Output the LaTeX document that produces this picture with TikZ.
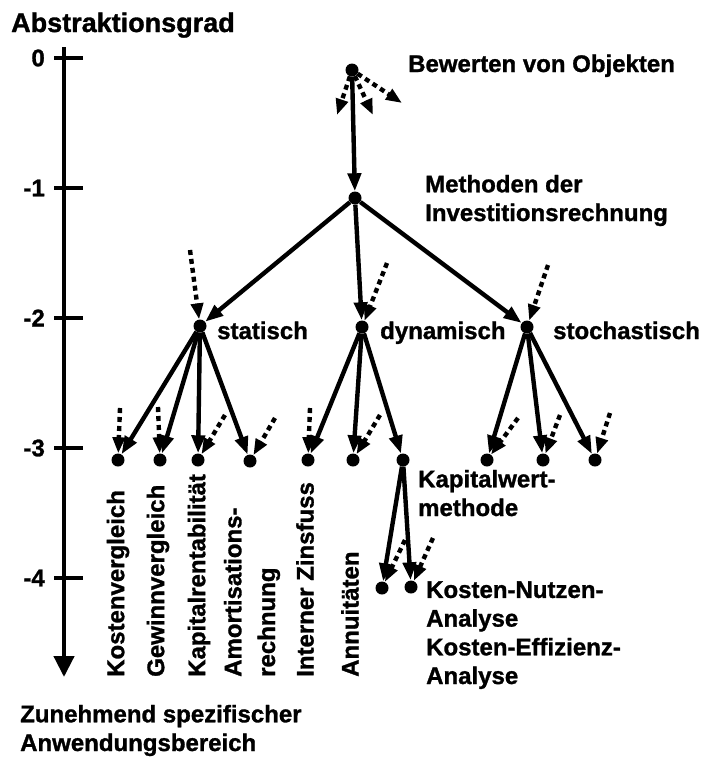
\documentclass[tikz,border=0pt]{standalone}
\usepackage{fontspec}
\setmainfont{Liberation Sans}[BoldFeatures={FakeBold=1.2}]
\usepackage{tikz}
\usetikzlibrary{arrows.meta,positioning}

\begin{document}
\begin{tikzpicture}[
  x=1pt, y=-1pt,
  dot/.style={circle, fill=black, inner sep=0pt, minimum size=13pt},
  txt/.style={font=\bfseries\fontsize{24}{28.7}\selectfont, inner sep=0pt, align=left},
  vtxt/.style={txt, rotate=90, anchor=west},
  arrow/.style={-{Triangle[length=18pt,width=13pt]}, line width=4.4pt},
  hint/.style={-{Triangle[length=16pt,width=12pt]}, line width=4.4pt, dash pattern=on 5pt off 4pt},
  axis/.style={-{Triangle[length=21pt,width=20pt]}, line width=4.4pt},
  tick/.style={line width=4.4pt}
]
\useasboundingbox (0,0) rectangle (704,758);

% axis with levels
\coordinate (axtop) at (64,47);
\coordinate (axbot) at (64,677);
\draw[axis] (axtop) -- (axbot);
\foreach \v/\y in {0/58,-1/188,-2/318,-3/448,-4/578} {
  \draw[tick] (54,\y) -- (83,\y);
  \node[txt, anchor=east] (lv\y) at (45,\y) {\v};
}
\node[txt, font=\bfseries\fontsize{27}{30}\selectfont, anchor=base west] (title) at (11,32) {Abstraktionsgrad};
\node[txt, anchor=base west] (foot) at (20,751) {Zunehmend spezifischer\\Anwendungsbereich};

% tree
\node[dot] (root) at (352,70) {};
\node[dot] (meth) at (355,198) {};
\node[dot] (sta) at (200,326) {};
\node[dot] (dyn) at (362,327) {};
\node[dot] (sto) at (527,327) {};
\node[dot] (k1) at (118,460) {};
\node[dot] (k2) at (160,460) {};
\node[dot] (k3) at (198,460) {};
\node[dot] (k4) at (250,461) {};
\node[dot] (d1) at (308,460) {};
\node[dot] (d2) at (353,460) {};
\node[dot] (d3) at (403,460) {};
\node[dot] (s1) at (487,460) {};
\node[dot] (s2) at (543,460) {};
\node[dot] (s3) at (595,460) {};
\node[dot] (e1) at (382,588) {};
\node[dot] (e2) at (411,587) {};

\node[txt, anchor=base west] (lroot) at (408,72) {Bewerten von Objekten};
\node[txt, anchor=base west] (lmeth) at (425,221) {Methoden der\\Investitionsrechnung};
\node[txt, anchor=base west] (lsta) at (217,339) {statisch};
\node[txt, anchor=base west] (ldyn) at (380,339) {dynamisch};
\node[txt, anchor=base west] (lsto) at (553,339) {stochastisch};
\node[txt, anchor=base west] (ld3) at (418,516) {Kapitalwert-\\methode};
\node[txt, anchor=base west] (le) at (426,684) {Kosten-Nutzen-\\Analyse\\Kosten-Effizienz-\\Analyse};

\node[vtxt] (lk1) at (118,677) {Kostenvergleich};
\node[vtxt] (lk2) at (158,677) {Gewinnvergleich};
\node[vtxt] (lk3) at (199,677) {Kapitalrentabilität};
\node[vtxt] (lk4) at (252,677) {Amortisations-\\[5pt]rechnung};
\node[vtxt] (ld1) at (305,677) {Interner Zinsfuss};
\node[vtxt] (ld2) at (350,677) {Annuitäten};

\draw[arrow] (root) -- (meth);
\draw[arrow] (meth) -- (sta);
\draw[arrow] (meth) -- (dyn);
\draw[arrow] (meth) -- (sto);
\draw[arrow] (sta) -- (k1);
\draw[arrow] (sta) -- (k2);
\draw[arrow] (sta) -- (k3);
\draw[arrow] (sta) -- (k4);
\draw[arrow] (dyn) -- (d1);
\draw[arrow] (dyn) -- (d2);
\draw[arrow] (dyn) -- (d3);
\draw[arrow] (sto) -- (s1);
\draw[arrow] (sto) -- (s2);
\draw[arrow] (sto) -- (s3);
\draw[arrow] (d3) -- (e1);
\draw[arrow] (d3) -- (e2);

% dotted hints
\coordinate (ro1) at (337,115);
\coordinate (ro2) at (373,115);
\coordinate (ro3) at (402,103);
\coordinate (hsta) at (190,250);
\coordinate (hdyn) at (387,263);
\coordinate (hsto) at (548,265);
\coordinate (hk1) at (120,408);
\coordinate (hk2) at (158,407);
\coordinate (hk3) at (225,415);
\coordinate (hk4) at (275,418);
\coordinate (hd1) at (310,408);
\coordinate (hd2) at (380,415);
\coordinate (hs1) at (518,418);
\coordinate (hs2) at (560,415);
\coordinate (hs3) at (610,413);
\coordinate (he1) at (405,540);
\coordinate (he2) at (433,538);

\draw[hint] (root) -- (ro1);
\draw[hint] (root) -- (ro2);
\draw[hint] (root) -- (ro3);
\draw[hint] (hsta) -- (sta);
\draw[hint] (hdyn) -- (dyn);
\draw[hint] (hsto) -- (sto);
\draw[hint] (hk1) -- (k1);
\draw[hint] (hk2) -- (k2);
\draw[hint] (hk3) -- (k3);
\draw[hint] (hk4) -- (k4);
\draw[hint] (hd1) -- (d1);
\draw[hint] (hd2) -- (d2);
\draw[hint] (hs1) -- (s1);
\draw[hint] (hs2) -- (s2);
\draw[hint] (hs3) -- (s3);
\draw[hint] (he1) -- (e1);
\draw[hint] (he2) -- (e2);

\end{tikzpicture}
\end{document}
